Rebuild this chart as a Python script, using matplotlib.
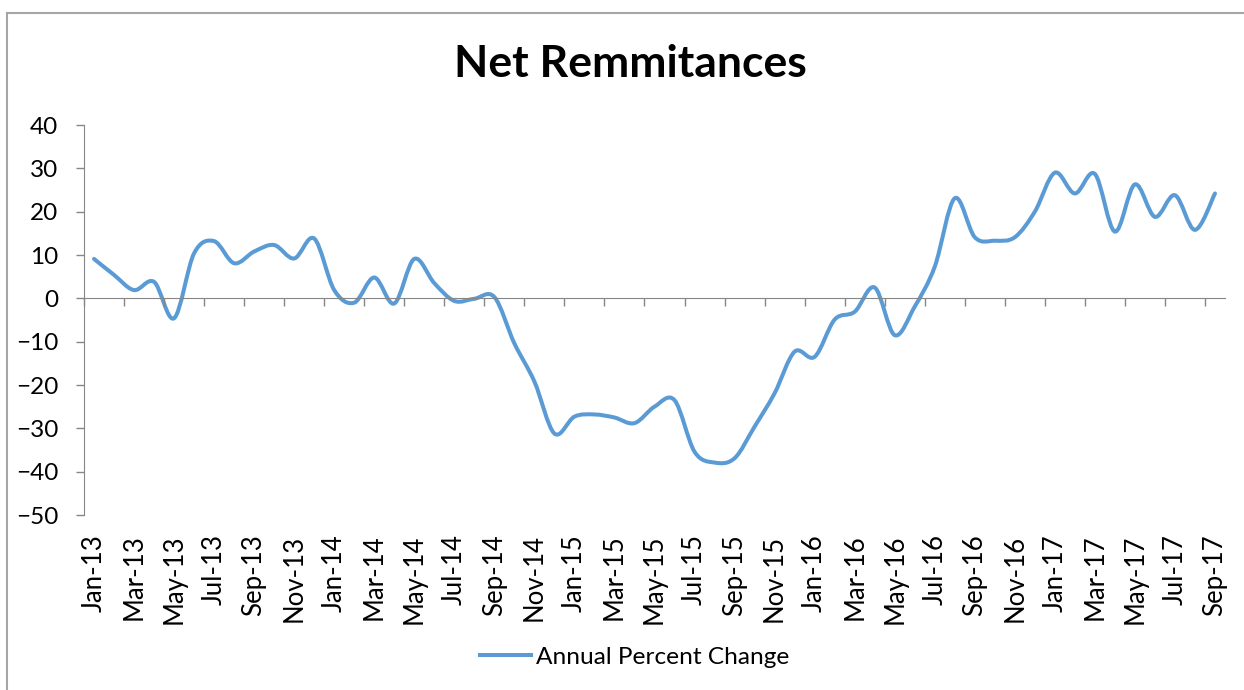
import numpy as np
import pandas as pd
import matplotlib
matplotlib.use("Agg")
import matplotlib.pyplot as plt
from matplotlib.path import Path
from matplotlib.patches import PathPatch
from matplotlib.lines import Line2D

# ============================================================
# Data: annual percent change of net remittances, Jan-13 .. Sep-17
# ============================================================
months = pd.date_range("2013-01-01", periods=57, freq="MS").strftime("%b-%y").tolist()

annual_pct_change = [
    9.1, 5.4, 1.9, 3.8, -4.6, 10.4, 13.2, 8.1, 10.8, 12.3, 9.2, 13.8,   # 2013
    1.9, -1.0, 4.8, -1.2, 9.1, 3.5, -0.6, -0.1, 0.3, -10.4, -19.2, -31.2,  # 2014
    -27.3, -26.8, -27.5, -28.8, -25.0, -23.5, -35.4, -37.9, -36.9, -29.6, -21.9, -12.3,  # 2015
    -13.5, -4.9, -3.1, 2.5, -8.5, -1.9, 7.3, 23.1, 14.1, 13.3, 14.1, 20.0,  # 2016
    29.0, 24.2, 28.7, 15.4, 26.3, 18.8, 23.8, 15.8, 24.2,                # 2017
]

series_name = "Annual Percent Change"
chart_title = "Net Remmitances"
y_ticks = [-50, -40, -30, -20, -10, 0, 10, 20, 30, 40]

LINE_COLOR = "#5B9BD5"
AXIS_COLOR = "#868686"
FONT = ["Lato", "DejaVu Sans"]

plt.rcParams["font.family"] = FONT


def smooth_path(xs, ys):
    # Excel-style smoothed line: cubic Bezier between neighbouring points
    pts = np.column_stack([xs, ys]).astype(float)
    n = len(pts)
    verts = [pts[0]]
    codes = [Path.MOVETO]
    for i in range(n - 1):
        p0 = pts[i - 1] if i > 0 else pts[i]
        p1 = pts[i]
        p2 = pts[i + 1]
        p3 = pts[i + 2] if i + 2 < n else pts[i + 1]
        c1 = p1 + (p2 - p0) / 6.0
        c2 = p2 - (p3 - p1) / 6.0
        verts += [c1, c2, p2]
        codes += [Path.CURVE4] * 3
    return Path(verts, codes)


# ============================================================
# Figure
# ============================================================
fig = plt.figure(figsize=(12.44, 6.90), dpi=100)
ax = fig.add_axes([84 / 1244, 1 - 515 / 690, (1225 - 84) / 1244, (515 - 125) / 690])

x = np.arange(len(months))
ax.add_patch(PathPatch(smooth_path(x, annual_pct_change), facecolor="none",
                       edgecolor=LINE_COLOR, lw=2.9, capstyle="round", joinstyle="round"))

ax.set_xlim(-0.5, len(months) - 0.5)
ax.set_ylim(-50, 40)

# y axis
ax.set_yticks(y_ticks)
ax.tick_params(axis="y", direction="out", length=5.5, width=1, color=AXIS_COLOR,
               labelsize=17.5, pad=13)
ax.spines["left"].set_color(AXIS_COLOR)
for s in ["top", "right"]:
    ax.spines[s].set_visible(False)

# category axis crosses at 0, tick marks between every second category
ax.spines["bottom"].set_position(("data", 0))
ax.spines["bottom"].set_color(AXIS_COLOR)
ax.set_xticks(np.arange(-0.5, len(months) - 1, 2))
ax.tick_params(axis="x", direction="out", length=6, width=1, color=AXIS_COLOR,
               labelbottom=False)

# labels sit below the plot area
sec = ax.secondary_xaxis(0)
sec.set_xticks(x[::2])
sec.set_xticklabels(months[::2], rotation=90, fontsize=18.5)
sec.tick_params(axis="x", length=0, pad=14)
sec.spines["bottom"].set_visible(False)

fig.text(0.507, 1 - 64 / 690, chart_title, ha="center", va="center",
         fontsize=32, fontweight="bold")

handle = Line2D([], [], color=LINE_COLOR, lw=2.9)
fig.legend([handle], [series_name], loc="center", bbox_to_anchor=(0.51, 1 - 657 / 690),
           frameon=False, fontsize=17.6, handlelength=2.1, handletextpad=0.2)

# chart area border (left and top edges visible)
fig.add_artist(Line2D([7 / 1244, 7 / 1244], [0, 1 - 12.5 / 690], transform=fig.transFigure,
                      color="#A6A6A6", lw=1.5))
fig.add_artist(Line2D([7 / 1244, 1], [1 - 12.5 / 690, 1 - 12.5 / 690], transform=fig.transFigure,
                      color="#A6A6A6", lw=1.5))

fig.savefig("out.png", dpi=100)
